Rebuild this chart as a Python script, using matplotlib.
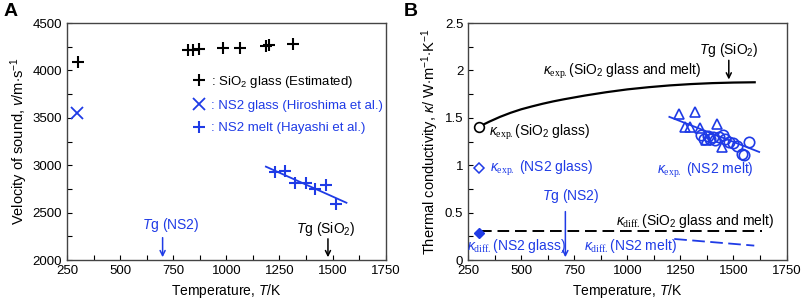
import numpy as np
import matplotlib
matplotlib.use("Agg")
import matplotlib.pyplot as plt
from matplotlib.ticker import MultipleLocator, FuncFormatter

plt.rcParams['font.family'] = ['Liberation Sans', 'DejaVu Sans']
plt.rcParams['mathtext.fontset'] = 'custom'
plt.rcParams['mathtext.rm'] = 'Liberation Serif'
plt.rcParams['mathtext.it'] = 'Liberation Sans:italic'
plt.rcParams['mathtext.sf'] = 'Liberation Sans'
plt.rcParams['font.size'] = 9

AZUL = '#1f3be6'

# Panel A: velocidad del sonido
t_sio2 = [300, 820, 845, 870, 985, 1065, 1185, 1200, 1315]
v_sio2 = [4090, 4220, 4220, 4225, 4240, 4240, 4260, 4265, 4278]
t_ns2_vidrio = [298]
v_ns2_vidrio = [3554]
t_ns2_fundido = [1228, 1275, 1322, 1374, 1416, 1468, 1518]
v_ns2_fundido = [2925, 2942, 2809, 2809, 2749, 2791, 2587]
t_ajuste_a = [1186, 1565]
v_ajuste_a = [2985, 2604]

# Panel B: conductividad térmica
t_kexp_sio2 = [300, 350, 400, 450, 500, 550, 600, 650, 700, 800, 900, 1000, 1100, 1200, 1300, 1400, 1500, 1600]
k_kexp_sio2 = [1.405, 1.46, 1.51, 1.553, 1.59, 1.62, 1.648, 1.673, 1.695, 1.735, 1.77, 1.80, 1.823, 1.842,
               1.856, 1.866, 1.872, 1.875]
t_kexp_ns2_vidrio = [300]
k_kexp_ns2_vidrio = [0.97]
t_kdiff_ns2_vidrio = [300]
k_kdiff_ns2_vidrio = [0.29]
t_kdiff_sio2 = [305, 1636]
k_kdiff_sio2 = [0.31, 0.31]
t_kdiff_ns2_fundido = [1221, 1598]
k_kdiff_ns2_fundido = [0.222, 0.152]
t_tri = [1245, 1320, 1272, 1297, 1344, 1421, 1371, 1446]
k_tri = [1.54, 1.56, 1.405, 1.405, 1.39, 1.43, 1.27, 1.19]
t_circ = [1347, 1363, 1378, 1390, 1402, 1414, 1430, 1449, 1461, 1480, 1496, 1515, 1540, 1551, 1571]
k_circ = [1.317, 1.28, 1.306, 1.28, 1.30, 1.27, 1.30, 1.317, 1.28, 1.245, 1.23, 1.20, 1.115, 1.105, 1.245]
t_ajuste_b = [1198, 1621]
k_ajuste_b = [1.51, 1.14]

fig = plt.figure(figsize=(8.03, 3.05), dpi=100)
ax1 = fig.add_axes([0.0834, 0.1475, 0.397, 0.777])
ax2 = fig.add_axes([0.583, 0.1475, 0.3965, 0.777])

for ax in (ax1, ax2):
    ax.set_xlim(250, 1750)
    ax.xaxis.set_major_locator(MultipleLocator(250))
    ax.xaxis.set_minor_locator(MultipleLocator(125))
    ax.tick_params(which='both', direction='in', length=3.5, width=0.8, labelsize=9.5)
    ax.tick_params(which='both', top=False, right=False)
    for s in ax.spines.values():
        s.set_color('#444444')
        s.set_linewidth(1.0)
    ax.set_xlabel('Temperature, $\\mathit{T}$/K', fontsize=10)

# ---- Panel A
ax1.set_ylim(2000, 4500)
ax1.yaxis.set_major_locator(MultipleLocator(500))
ax1.yaxis.set_minor_locator(MultipleLocator(250))
ax1.set_ylabel('Velocity of sound, $\\mathit{v}$/m$\\cdot$s$^{\\mathsf{-1}}$', fontsize=10.5, labelpad=2)

ax1.plot(t_sio2, v_sio2, ls='none', marker='+', ms=9, mew=1.5, color='black',
         label=': SiO$_{\\mathsf{2}}$ glass (Estimated)')
ax1.plot(t_ns2_vidrio, v_ns2_vidrio, ls='none', marker='x', ms=8, mew=1.3, color=AZUL,
         label=': NS2 glass (Hiroshima et al.)')
ax1.plot(t_ns2_fundido, v_ns2_fundido, ls='none', marker='+', ms=9, mew=1.5, color=AZUL,
         label=': NS2 melt (Hayashi et al.)')
ax1.plot(t_ajuste_a, v_ajuste_a, color=AZUL, lw=1.3)

leg = ax1.legend(loc='upper left', bbox_to_anchor=(0.394, 0.785), frameon=False,
                 handlelength=1.0, handletextpad=0.4, labelspacing=0.75,
                 borderpad=0, borderaxespad=0, fontsize=9.5)
for txt, c in zip(leg.get_texts(), ['black', AZUL, AZUL]):
    txt.set_color(c)

ax1.annotate('', xy=(700, 2000), xytext=(700, 2265),
             arrowprops=dict(arrowstyle='->', color=AZUL, lw=1.1))
ax1.text(737, 2370, '$\\mathit{T}$g (NS2)', color=AZUL, ha='center', va='center', fontsize=10)
ax1.annotate('', xy=(1478, 2000), xytext=(1478, 2253),
             arrowprops=dict(arrowstyle='->', color='black', lw=1.1))
ax1.text(1470, 2330, '$\\mathit{T}$g (SiO$_{\\mathsf{2}}$)', color='black', ha='center', va='center', fontsize=10)

# ---- Panel B
ax2.set_ylim(0, 2.5)
ax2.yaxis.set_major_locator(MultipleLocator(0.5))
ax2.yaxis.set_minor_locator(MultipleLocator(0.25))
ax2.yaxis.set_major_formatter(FuncFormatter(lambda v, p: '%g' % v))
ax2.set_ylabel('Thermal conductivity, $\\mathit{\\kappa}$/ W$\\cdot$m$^{\\mathsf{-1}}$$\\cdot$K$^{\\mathsf{-1}}$',
               fontsize=10.5, labelpad=3)

ax2.plot(t_kexp_sio2, k_kexp_sio2, color='black', lw=1.6)
ax2.plot(t_kexp_sio2[:1], k_kexp_sio2[:1], ls='none', marker='o', ms=7, mfc='white', mec='black', mew=1.2)
ax2.plot(t_kexp_ns2_vidrio, k_kexp_ns2_vidrio, ls='none', marker='D', ms=5, mfc='white', mec=AZUL, mew=1.1)
ax2.plot(t_kdiff_sio2, k_kdiff_sio2, color='black', lw=1.4, dashes=(6, 3))
ax2.plot(t_kdiff_ns2_vidrio, k_kdiff_ns2_vidrio, ls='none', marker='D', ms=5, color=AZUL)
ax2.plot(t_kdiff_ns2_fundido, k_kdiff_ns2_fundido, color=AZUL, lw=1.3, dashes=(7, 3))
ax2.plot(t_tri, k_tri, ls='none', marker='^', ms=6.5, mfc='none', mec=AZUL, mew=1.2)
ax2.plot(t_circ, k_circ, ls='none', marker='o', ms=7.5, mfc='none', mec=AZUL, mew=1.2)
ax2.plot(t_ajuste_b, k_ajuste_b, color=AZUL, lw=1.3)

ax2.annotate('', xy=(1478, 1.875), xytext=(1478, 2.136),
             arrowprops=dict(arrowstyle='->', color='black', lw=1.1))
ax2.text(1478, 2.22, '$\\mathit{T}$g (SiO$_{\\mathsf{2}}$)', ha='center', va='center', fontsize=10)
ax2.annotate('', xy=(708, 0.0), xytext=(708, 0.54),
             arrowprops=dict(arrowstyle='->', color=AZUL, lw=1.1))
ax2.text(732, 0.68, '$\\mathit{T}$g (NS2)', color=AZUL, ha='center', va='center', fontsize=10)

ax2.text(973, 1.99, '$\\kappa_{\\mathrm{exp.}}$(SiO$_{\\mathsf{2}}$ glass and melt)', ha='center', va='center', fontsize=10)
ax2.text(349, 1.35, '$\\kappa_{\\mathrm{exp.}}$(SiO$_{\\mathsf{2}}$ glass)', ha='left', va='center', fontsize=10)
ax2.text(352, 0.97, '$\\kappa_{\\mathrm{exp.}}$ (NS2 glass)', color=AZUL, ha='left', va='center', fontsize=10)
ax2.text(1366, 0.946, '$\\kappa_{\\mathrm{exp.}}$ (NS2 melt)', color=AZUL, ha='center', va='center', fontsize=10)
ax2.text(1320, 0.416, '$\\kappa_{\\mathrm{diff.}}$(SiO$_{\\mathsf{2}}$ glass and melt)', ha='center', va='center', fontsize=10)
ax2.text(477, 0.153, '$\\kappa_{\\mathrm{diff.}}$(NS2 glass)', color=AZUL, ha='center', va='center', fontsize=10)
ax2.text(1014, 0.153, '$\\kappa_{\\mathrm{diff.}}$(NS2 melt)', color=AZUL, ha='center', va='center', fontsize=10)

fig.text(0.004, 0.99, 'A', fontsize=14, fontweight='bold', va='top', ha='left')
fig.text(0.503, 0.99, 'B', fontsize=14, fontweight='bold', va='top', ha='left')

fig.savefig('out.png', dpi=100)
